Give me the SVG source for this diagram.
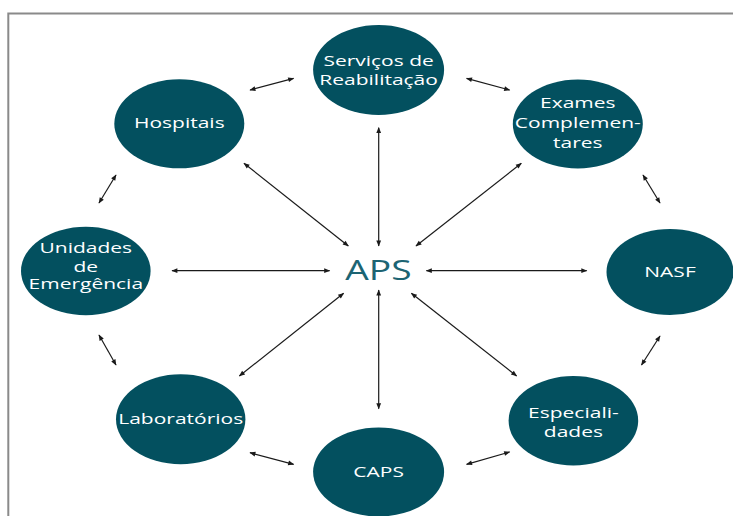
<svg xmlns="http://www.w3.org/2000/svg" width="733" height="516" viewBox="0 0 733 516">
  <defs>
    <marker id="arrow" viewBox="0 0 10 10" refX="9" refY="5" markerWidth="7" markerHeight="6" markerUnits="userSpaceOnUse" orient="auto-start-reverse">
      <path d="M0,1 L10,5 L0,9 Z" fill="#1a1a1a"/>
    </marker>
    <style>
      .node { fill: #03505f; }
      .label { font-family: "Open Sans", "Noto Sans", "Liberation Sans", sans-serif; font-size: 15px; fill: #ffffff; text-anchor: middle; }
      .hub { font-family: "Open Sans", "Noto Sans", "Liberation Sans", sans-serif; font-size: 28px; fill: #1c6473; text-anchor: middle; }
      .link { stroke: #1a1a1a; stroke-width: 1.2; fill: none; marker-start: url(#arrow); marker-end: url(#arrow); }
      .frame { fill: none; stroke: #8a8a8a; stroke-width: 2; }
    </style>
  </defs>

  <rect width="733" height="516" fill="#ffffff"/>
  <rect class="frame" x="8.3" y="13.5" width="740" height="520"/>

  <!-- connectors -->
  <g id="connectors">
    <line class="link" x1="250" y1="90" x2="293.6" y2="78.3"/>
    <line class="link" x1="466.6" y1="78.3" x2="509.6" y2="90"/>
    <line class="link" x1="643" y1="175" x2="660" y2="203"/>
    <line class="link" x1="116" y1="175" x2="99" y2="203"/>
    <line class="link" x1="99" y1="335" x2="116" y2="365"/>
    <line class="link" x1="660" y1="336" x2="641.5" y2="365"/>
    <line class="link" x1="250" y1="452.7" x2="293.6" y2="464.3"/>
    <line class="link" x1="466.6" y1="464.3" x2="509.6" y2="452"/>
    <line class="link" x1="244" y1="163.3" x2="348.3" y2="246"/>
    <line class="link" x1="378.7" y1="127.7" x2="378.7" y2="246"/>
    <line class="link" x1="521.3" y1="163.3" x2="416" y2="246"/>
    <line class="link" x1="172" y1="270.7" x2="329.6" y2="270.7"/>
    <line class="link" x1="426.4" y1="270.7" x2="586.7" y2="270.7"/>
    <line class="link" x1="343.6" y1="293.3" x2="239.4" y2="376"/>
    <line class="link" x1="378.7" y1="290" x2="378.7" y2="408.7"/>
    <line class="link" x1="411.4" y1="293.3" x2="516.6" y2="376"/>
  </g>

  <!-- centre -->
  <g id="aps">
    <text class="hub" transform="translate(378.5,279.5) scale(1.33,1)">APS</text>
  </g>

  <!-- surrounding services -->
  <g id="servicos-reabilitacao" transform="translate(378.6,70)">
    <ellipse class="node" rx="65.5" ry="45"/>
    <text class="label" transform="translate(0,-4) scale(1.4,1)">Serviços de</text>
    <text class="label" transform="translate(0,15) scale(1.4,1)">Reabilitação</text>
  </g>

  <g id="hospitais" transform="translate(179.3,123.8)">
    <ellipse class="node" rx="65" ry="44.5"/>
    <text class="label" transform="translate(0,4.5) scale(1.4,1)">Hospitais</text>
  </g>

  <g id="exames-complementares" transform="translate(577.8,124)">
    <ellipse class="node" rx="65" ry="44.5"/>
    <text class="label" transform="translate(0,-15.7) scale(1.4,1)">Exames</text>
    <text class="label" transform="translate(0,4.3) scale(1.4,1)">Complemen-</text>
    <text class="label" transform="translate(0,24.3) scale(1.4,1)">tares</text>
  </g>

  <g id="unidades-emergencia" transform="translate(85.8,271)">
    <ellipse class="node" rx="64.8" ry="44.2"/>
    <text class="label" transform="translate(0,-17.7) scale(1.4,1)">Unidades</text>
    <text class="label" transform="translate(0,0.7) scale(1.4,1)">de</text>
    <text class="label" transform="translate(0,18.3) scale(1.4,1)">Emergência</text>
  </g>

  <g id="nasf" transform="translate(670,272)">
    <ellipse class="node" rx="63.5" ry="43"/>
    <text class="label" transform="translate(0,4.5) scale(1.4,1)">NASF</text>
  </g>

  <g id="laboratorios" transform="translate(180.7,419.3)">
    <ellipse class="node" rx="64.7" ry="45"/>
    <text class="label" transform="translate(0,4.4) scale(1.4,1)">Laboratórios</text>
  </g>

  <g id="especialidades" transform="translate(573.4,420.7)">
    <ellipse class="node" rx="64.8" ry="44.7"/>
    <text class="label" transform="translate(0,-3) scale(1.4,1)">Especiali-</text>
    <text class="label" transform="translate(0,16.3) scale(1.4,1)">dades</text>
  </g>

  <g id="caps" transform="translate(378.6,472)">
    <ellipse class="node" rx="65.5" ry="44.5"/>
    <text class="label" transform="translate(0,4.7) scale(1.4,1)">CAPS</text>
  </g>
</svg>
